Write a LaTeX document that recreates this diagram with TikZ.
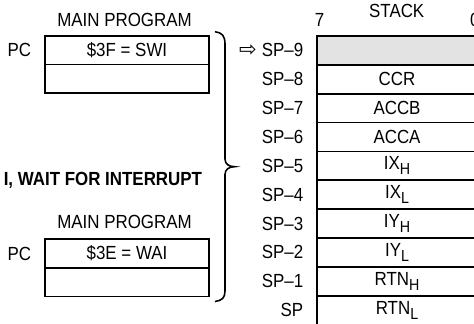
\documentclass[tikz,border=0pt]{standalone}
\usepackage{fontspec}
\setmainfont[FakeStretch=0.89]{Liberation Sans}
\newfontfamily\arrowfont{DejaVu Sans}
\usetikzlibrary{positioning}
\definecolor{StackShade}{HTML}{E3E3E3}
\newcommand{\lowsub}[1]{\raisebox{-5pt}{\fontsize{16}{16}\selectfont #1}}

\begin{document}
\begin{tikzpicture}[x=1pt,y=-1pt,node distance=0pt]
    \tikzset{memcell/.style={draw,line width=1.7pt,minimum width=164pt,minimum height=28.6pt,
      inner sep=0pt,outer sep=0pt,font=\fontsize{19}{19}\selectfont},
      stackcell/.style={memcell,minimum width=160.6pt,minimum height=28.85pt},
      celllabel/.style={inner sep=0pt,outer sep=0pt,font=\fontsize{19}{19}\selectfont}}
    \useasboundingbox (0,0) rectangle (474,324);
    \clip (0,0) rectangle (474,324);
    % SWI program
    \node[memcell,anchor=north west] (swi) at (45,36) {\$3F = SWI};
    \node[memcell,below=of swi] (swinext) {};
    \node[celllabel,above=9.3pt of swi,xshift=-2.5pt] (swititle) {MAIN PROGRAM};
    \node[celllabel,left=14pt of swi] (swipc) {PC};
    % WAI program
    \node[celllabel,anchor=base east,font=\fontsize{19}{19}\selectfont\bfseries] (waihead) at (202,185.7)
      {I, WAIT FOR INTERRUPT};
    \node[memcell,anchor=north west] (wai) at (45,239.3) {\$3E = WAI};
    \node[memcell,below=of wai] (wainext) {};
    \node[celllabel,above=11pt of wai,xshift=-2.5pt] (waititle) {MAIN PROGRAM};
    \node[celllabel,left=14pt of wai] (waipc) {PC};
    % brace
    \draw[line width=1.6pt] (215,31.7) .. controls (222,32.5) and (225,36) .. (225,44) -- (225,159)
      .. controls (225,164) and (229,166.7) .. (234.5,166.7)
      .. controls (229,166.7) and (225,169.5) .. (225,174.5) -- (225,291)
      .. controls (225,298) and (222,300.5) .. (215,301.5);
    % stack
    \node[stackcell,anchor=north west,fill=StackShade] (s9) at (316.7,36) {};
    \node[stackcell,below=of s9] (s8) {CCR};
    \node[stackcell,below=of s8] (s7) {ACCB};
    \node[stackcell,below=of s7] (s6) {ACCA};
    \node[stackcell,below=of s6] (s5) {IX\lowsub{H}};
    \node[stackcell,below=of s5] (s4) {IX\lowsub{L}};
    \node[stackcell,below=of s4] (s3) {IY\lowsub{H}};
    \node[stackcell,below=of s3] (s2) {IY\lowsub{L}};
    \node[stackcell,below=of s2] (s1) {RTN\lowsub{H}};
    \node[stackcell,below=of s1] (s0) {RTN\lowsub{L}};
    \node[celllabel,left=13.5pt of s9] (l9) {SP–9};
    \node[celllabel,left=13.5pt of s8] (l8) {SP–8};
    \node[celllabel,left=13.5pt of s7] (l7) {SP–7};
    \node[celllabel,left=13.5pt of s6] (l6) {SP–6};
    \node[celllabel,left=13.5pt of s5] (l5) {SP–5};
    \node[celllabel,left=13.5pt of s4] (l4) {SP–4};
    \node[celllabel,left=13.5pt of s3] (l3) {SP–3};
    \node[celllabel,left=13.5pt of s2] (l2) {SP–2};
    \node[celllabel,left=13.5pt of s1] (l1) {SP–1};
    \node[celllabel,left=13.5pt of s0] (l0) {SP};
    \node[celllabel,left=5pt of l9,font=\fontsize{21}{21}\arrowfont] (sparrow) {⇨};
    \node[celllabel,anchor=base] (stacktitle) at (396.7,17) {STACK};
    \node[celllabel,anchor=base] (bitseven) at (319.5,26.7) {7};
    \node[celllabel,anchor=base west] (bitzero) at (470,26.7) {0};
  \end{tikzpicture}
\end{document}
